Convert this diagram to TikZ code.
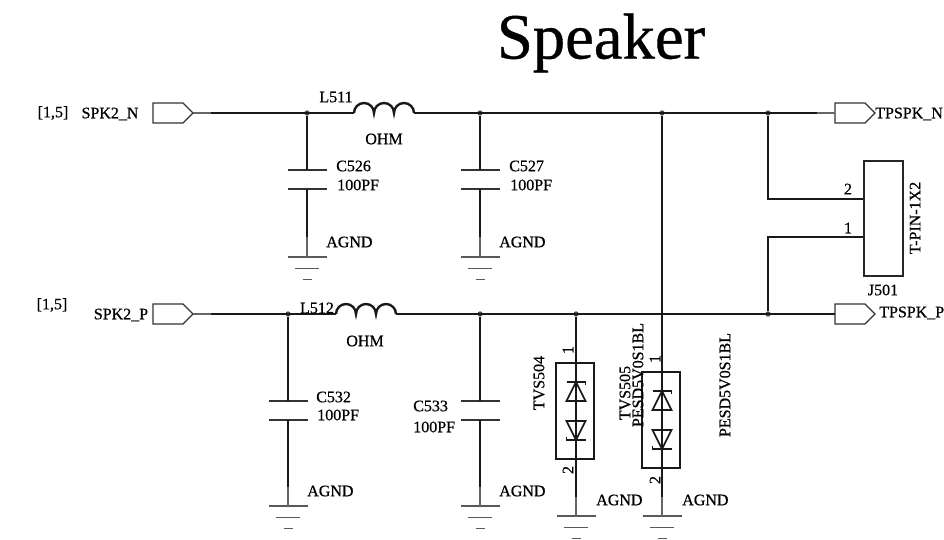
\documentclass[tikz,border=0pt]{standalone}
\usepackage{fontspec}
\setmainfont[RawFeature={embolden=0.6}]{Liberation Serif}
\begin{document}
\begin{tikzpicture}[x=0.75pt, y=-0.75pt, line join=miter]
    \tikzset{
        wire/.style={line width=1.4pt, black!90},
        stub/.style={line width=0.8pt, black!60},
        plate/.style={line width=1pt, black!80},
        lbl/.style={inner sep=0pt, font=\fontsize{12}{12}\selectfont},
        lblr/.style={lbl, anchor=west},
        side/.style={lbl, rotate=90},
        junct/.style={circle, fill=black!70, inner sep=0pt, minimum size=4pt},
        pics/capsym/.style={code={
            \draw[plate] (-19.5,0) -- (19.5,0) (-19.5,19) -- (19.5,19);
            \coordinate (-top) at (0,0);
            \coordinate (-bot) at (0,19);
        }},
        pics/gndsym/.style={code={
            \draw[plate, black!65] (-19.5,0) -- (19.5,0);
            \draw[plate, black!65] (-12,11.5) -- (12,11.5);
            \draw[plate, black!65] (-4.5,22.5) -- (4.5,22.5);
            \coordinate (-top) at (0,0);
        }},
        pics/coilsym/.style={code={
            \draw[wire, line width=1.8pt] (0,0) arc (180:360:10) arc (180:360:10) arc (180:360:10);
            \coordinate (-in) at (0,0);
            \coordinate (-out) at (60,0);
        }},
        pics/portsym/.style={code={
            \draw[line width=0.9pt, black!80] (0,-10) -- (30,-10) -- (40,0) -- (30,10) -- (0,10) -- cycle;
            \coordinate (-in) at (0,0);
            \coordinate (-tip) at (40,0);
        }},
        pics/tvssym/.style={code={
            \draw[wire, line width=1.2pt] (-20,0) rectangle (18,96);
            \draw[wire, line width=1.2pt] (-9.5,38) -- (9.5,38) -- (0,19) -- cycle;
            \draw[wire, line width=1.2pt] (-9.5,58) -- (9.5,58) -- (0,77) -- cycle;
            \draw[wire, line width=1.2pt] (-9.5,19) -- (9.5,19) -- (9.5,22);
            \draw[wire, line width=1.2pt] (9.5,77) -- (-9.5,77) -- (-9.5,74);
        }}
    }
    \useasboundingbox (0,0) rectangle (944,539);

    % title
    \node[inner sep=0pt, font=\fontsize{48.5}{49}\selectfont] (title) at (601,43) {Speaker};

    % top net
    \pic (portn) at (153,113) {portsym};
    \pic (portnout) at (835,113) {portsym};
    \coordinate (nstart) at (211,113);
    \coordinate (nend) at (817,113);
    \node[junct] (n1) at (307,113) {};
    \node[junct] (n2) at (480,113) {};
    \node[junct] (n3) at (662,113) {};
    \node[junct] (n4) at (768,113) {};
    \pic (l511) at (354,113) {coilsym};
    \draw[stub] (portn-tip) -- (nstart);
    \draw[wire] (nstart) -- (l511-in);
    \draw[wire] (l511-out) -- (nend);
    \draw[stub] (nend) -- (portnout-in);

    % bottom net
    \pic (portp) at (153,314) {portsym};
    \pic (portpout) at (835,314) {portsym};
    \coordinate (pstart) at (211,314);
    \coordinate (pend) at (817,314);
    \node[junct] (p1) at (288,314) {};
    \node[junct] (p2) at (480,314) {};
    \node[junct] (p3) at (576,314) {};
    \node[junct] (p4) at (768,314) {};
    \pic (l512) at (336,314) {coilsym};
    \draw[stub] (portp-tip) -- (pstart);
    \draw[wire] (pstart) -- (l512-in);
    \draw[wire] (l512-out) -- (pend);
    \draw[wire] (pend) -- (portpout-in);

    % capacitors on top net
    \pic (c526) at (307,170) {capsym};
    \pic (g526) at (307,257) {gndsym};
    \coordinate (t526) at (307,237);
    \draw[wire] (n1) -- (c526-top) (c526-bot) -- (t526);
    \draw[stub] (t526) -- (g526-top);
    \pic (c527) at (480,170) {capsym};
    \pic (g527) at (480,257) {gndsym};
    \coordinate (t527) at (480,237);
    \draw[wire] (n2) -- (c527-top) (c527-bot) -- (t527);
    \draw[stub] (t527) -- (g527-top);

    % capacitors on bottom net
    \pic (c532) at (288,401) {capsym};
    \pic (g532) at (288,506) {gndsym};
    \coordinate (t532) at (288,487);
    \draw[wire] (p1) -- (c532-top) (c532-bot) -- (t532);
    \draw[stub] (t532) -- (g532-top);
    \pic (c533) at (480,401) {capsym};
    \pic (g533) at (480,506) {gndsym};
    \coordinate (t533) at (480,487);
    \draw[wire] (p2) -- (c533-top) (c533-bot) -- (t533);
    \draw[stub] (t533) -- (g533-top);

    % TVS diodes
    \pic at (576,363) {tvssym};
    \pic (g504) at (576,516) {gndsym};
    \coordinate (t504) at (576,497);
    \draw[wire] (p3) -- (t504);
    \draw[stub] (t504) -- (g504-top);
    \pic at (662,372) {tvssym};
    \pic (g505) at (662,516) {gndsym};
    \coordinate (t505) at (662,497);
    \draw[wire] (n3) -- (t505);
    \draw[stub] (t505) -- (g505-top);

    % connector
    \node[draw=black!85, line width=1.4pt, inner sep=0pt, minimum width=29.25pt, minimum height=86.25pt] (j501) at (883.5,218.5) {};
    \coordinate (pin2) at (j501.west |- 0,199);
    \coordinate (pin1) at (j501.west |- 0,237);
    \coordinate (k2) at (768,199);
    \coordinate (k1) at (768,237);
    \draw[wire] (n4) -- (k2) -- (pin2);
    \draw[wire] (p4) -- (k1) -- (pin1);

    % labels
    \node[lbl] (ref1) at (53,113) {[1,5]};
    \node[lbl] (ref2) at (52,305) {[1,5]};
    \node[lbl] (spkn) at (110,114) {SPK2\_N};
    \node[lbl] (spkp) at (121,315) {SPK2\_P};
    \node[lblr] (tpn) at (875,114) {TPSPK\_N};
    \node[lblr] (tpp) at (879,313) {TPSPK\_P};
    \node[lbl] (tl511) at (336,97) {L511};
    \node[lbl] (ol511) at (384,139) {OHM};
    \node[lbl] (tl512) at (317,308) {L512};
    \node[lbl] (ol512) at (365,341) {OHM};
    \node[lblr] (t526l) at (336,166) {C526};
    \node[lblr] (v526) at (337,185) {100PF};
    \node[lblr] (a526) at (326,242) {AGND};
    \node[lblr] (t527l) at (509,166) {C527};
    \node[lblr] (v527) at (510,185) {100PF};
    \node[lblr] (a527) at (499,242) {AGND};
    \node[lblr] (t532l) at (316,397) {C532};
    \node[lblr] (v532) at (317,415) {100PF};
    \node[lblr] (a532) at (307,491) {AGND};
    \node[lblr] (t533l) at (413,406) {C533};
    \node[lblr] (v533) at (413,427) {100PF};
    \node[lblr] (a533) at (499,491) {AGND};
    \node[lblr] (a504) at (596,500) {AGND};
    \node[lblr] (a505) at (682,500) {AGND};
    \node[side] (n504) at (539,383) {TVS504};
    \node[side] (n505) at (625,393) {TVS505};
    \node[side] (m505) at (638,375) {PESD5V0S1BL};
    \node[side] (m504) at (725,385) {PESD5V0S1BL};
    \node[side] (a1) at (568,350) {1};
    \node[side] (a2) at (568,470) {2};
    \node[side] (b1) at (655,359) {1};
    \node[side] (b2) at (655,480) {2};
    \node[lbl] (j2) at (848,189) {2};
    \node[lbl] (j1) at (848,228) {1};
    \node[lbl] (jn) at (883,290) {J501};
    \node[side] (jv) at (915,218) {T-PIN-1X2};
\end{tikzpicture}
\end{document}
